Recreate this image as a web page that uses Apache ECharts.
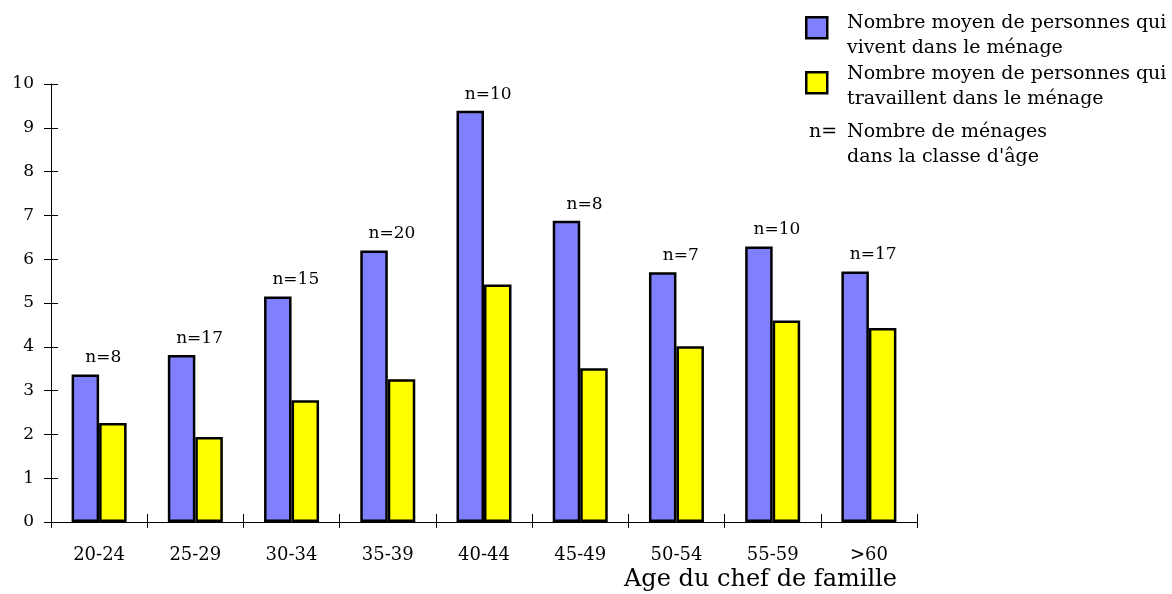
<!DOCTYPE html>
<html><head><meta charset="utf-8">
<script src="https://cdn.jsdelivr.net/npm/echarts@6/dist/echarts.min.js"></script>
<style>html,body{margin:0;padding:0;background:#fff}#c{width:1172px;height:594px}</style>
</head><body><div id="c"></div>
<script>
const categories = ['20-24','25-29','30-34','35-39','40-44','45-49','50-54','55-59','>60'];
const vivent = [3.37, 3.81, 5.15, 6.20, 9.39, 6.88, 5.70, 6.29, 5.72];
const travaillent = [2.26, 1.94, 2.78, 3.26, 5.42, 3.51, 4.01, 4.60, 4.43];
const nMenages = [8, 17, 15, 20, 10, 8, 7, 10, 17];
const seriesNames = ['Nombre moyen de personnes qui vivent dans le ménage', 'Nombre moyen de personnes qui travaillent dans le ménage'];
const legendLines = [
  ['Nombre moyen de personnes qui', 'vivent dans le ménage'],
  ['Nombre moyen de personnes qui', 'travaillent dans le ménage'],
  ['Nombre de ménages', "dans la classe d'âge"]
];
const axisTitle = 'Age du chef de famille';

const FONT = 'DejaVu Serif';
const BLUE = '#8080FF', YELLOW = '#FFFF00';
const chart = echarts.init(document.getElementById('c'));

function legendText(x, baseline, s) {
  return { type: 'text', left: x, top: baseline - 15, style: { text: s, font: '19px "' + FONT + '"', fill: '#000' } };
}

const option = {
  backgroundColor: '#fff',
  animation: false,
  textStyle: { fontFamily: FONT, color: '#000' },
  grid: { left: 51, right: 255, top: 84, bottom: 72, containLabel: false },
  xAxis: [{
    type: 'category', data: categories, position: 'bottom',
    axisLine: { lineStyle: { color: '#000', width: 1 } },
    axisTick: { show: true, length: 6, lineStyle: { color: '#000' } },
    axisLabel: { fontFamily: FONT, fontSize: 18, color: '#000', margin: 24 },
    name: axisTitle, nameLocation: 'end', nameGap: -20,
    nameTextStyle: { fontFamily: FONT, fontSize: 24, color: '#000', align: 'right', verticalAlign: 'top', padding: [46, 0, 0, 0] }
  }, {
    type: 'category', data: categories, position: 'bottom',
    axisLine: { show: false },
    axisTick: { show: true, inside: true, length: 8, lineStyle: { color: '#000' } },
    axisLabel: { show: false }
  }],
  yAxis: [{
    type: 'value', min: 0, max: 10, interval: 1,
    axisLine: { show: true, lineStyle: { color: '#000', width: 1 } },
    axisTick: { show: true, length: 7, lineStyle: { color: '#000' } },
    axisLabel: { fontFamily: FONT, fontSize: 17, color: '#000', margin: 17 },
    splitLine: { show: false }
  }, {
    type: 'value', min: 0, max: 10, interval: 1, position: 'left',
    axisLine: { show: false },
    axisTick: { show: true, inside: true, length: 7, lineStyle: { color: '#000' } },
    axisLabel: { show: false },
    splitLine: { show: false }
  }],
  series: [{
    name: seriesNames[0], type: 'bar', data: vivent, barWidth: 27.5, barGap: '0%',
    itemStyle: { color: BLUE, borderColor: '#000', borderWidth: 2.5 },
    label: {
      show: true, position: 'top', distance: 8, offset: [18, 0],
      fontFamily: FONT, fontSize: 17, color: '#000',
      formatter: p => 'n=' + nMenages[p.dataIndex]
    }
  }, {
    name: seriesNames[1], type: 'bar', data: travaillent, barWidth: 27.5,
    itemStyle: { color: YELLOW, borderColor: '#000', borderWidth: 2.5 }
  }],
  graphic: [
    { type: 'rect', left: 805, top: 16, shape: { width: 21, height: 21 }, style: { fill: BLUE, stroke: '#000', lineWidth: 2.5 } },
    legendText(847, 29, legendLines[0][0]),
    legendText(847, 54, legendLines[0][1]),
    { type: 'rect', left: 805, top: 71, shape: { width: 21, height: 21 }, style: { fill: YELLOW, stroke: '#000', lineWidth: 2.5 } },
    legendText(847, 80, legendLines[1][0]),
    legendText(847, 105, legendLines[1][1]),
    legendText(809, 138, 'n='),
    legendText(847, 138, legendLines[2][0]),
    legendText(847, 163, legendLines[2][1])
  ]
};
chart.setOption(option);
</script></body></html>
